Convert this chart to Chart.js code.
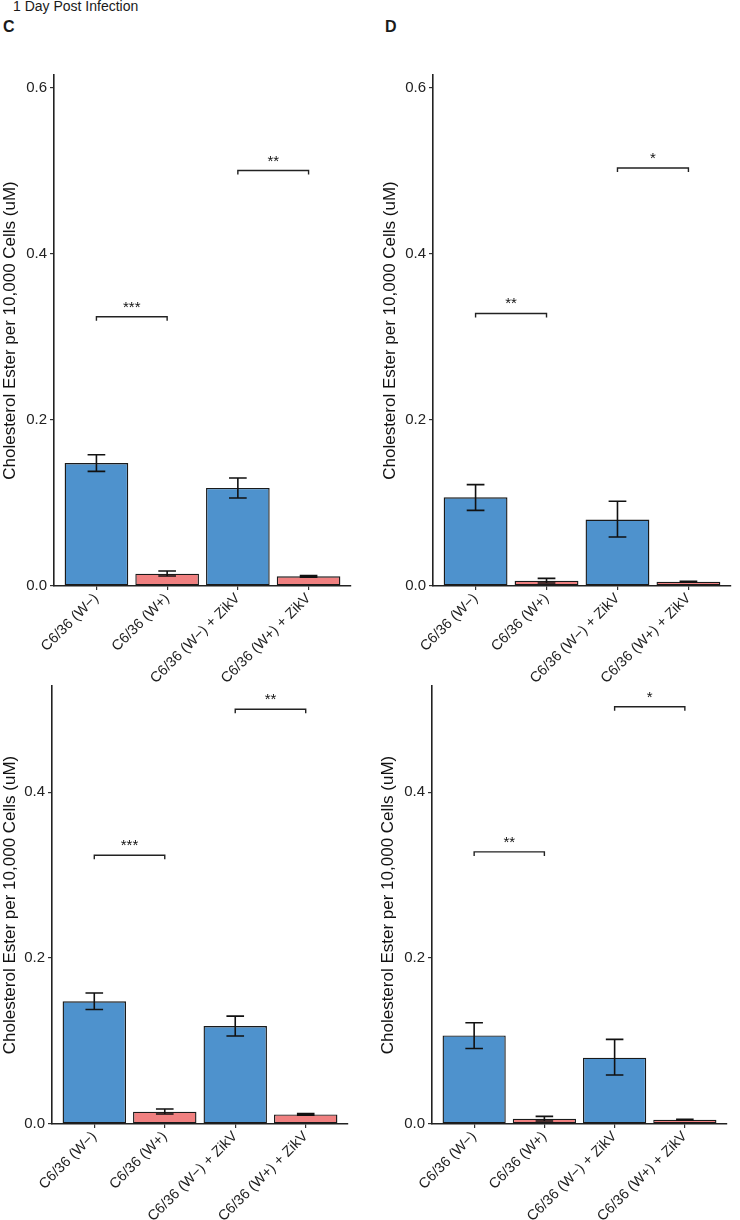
<!DOCTYPE html>
<html lang="en">
<head>
<meta charset="UTF-8">
<title>Cholesterol Ester - 1 Day Post Infection</title>
<script src="https://cdn.jsdelivr.net/npm/chart.js"></script>
<style>
  body { margin: 0; width: 740px; height: 1220px; position: relative; background: #fff; overflow: hidden;
         font-family: "Liberation Sans", Arial, sans-serif; }
  .note { position: absolute; color: #1a1a1a; white-space: nowrap; }
  canvas { position: absolute; }
</style>
</head>
<body>
<div class="note" style="left:13px; top:-1px; font-size:14px; line-height:14px;">1 Day Post Infection</div>
<div class="note" style="left:3px; top:19px; font-size:16px; line-height:16px; font-weight:bold;">C</div>
<div class="note" style="left:385px; top:19px; font-size:16px; line-height:16px; font-weight:bold;">D</div>

<canvas id="panelBL" width="370" height="550" style="left:0; top:670px;"></canvas>
<canvas id="panelBR" width="370" height="550" style="left:370px; top:670px;"></canvas>
<canvas id="panelTL" width="370" height="660" style="left:0; top:40px;"></canvas>
<canvas id="panelTR" width="370" height="660" style="left:370px; top:40px;"></canvas>

<script>
// ---- data ----
const categories = ['C6/36 (W\u2212)', 'C6/36 (W+)', 'C6/36 (W\u2212) + ZikV', 'C6/36 (W+) + ZikV'];
const yTicks = [0, 0.2, 0.4, 0.6];
const yTitle = 'Cholesterol Ester per 10,000 Cells (uM)';

// panel C
const meanC = [0.148, 0.0148, 0.118, 0.0116];
const lowC  = [0.138, 0.0120, 0.106, 0.0107];
const highC = [0.158, 0.0180, 0.130, 0.0125];
const sigPairsC  = [[0, 1], [2, 3]];
const sigHeightC = [0.324, 0.500];
const sigLabelC  = ['***', '**'];

// panel D
const meanD = [0.1068, 0.0064, 0.080, 0.0052];
const lowD  = [0.091, 0.0037, 0.059, 0.0047];
const highD = [0.122, 0.0092, 0.102, 0.0058];
const sigPairsD  = [[0, 1], [2, 3]];
const sigHeightD = [0.328, 0.503];
const sigLabelD  = ['**', '*'];

// upper limit of the y axis (top row / bottom row)
const yMaxTop = 0.615;
const yMaxBottom = 0.528;

const barColors = ['#4e92cd', '#f08080', '#4e92cd', '#f08080'];
const FONT = '"Liberation Sans", Arial, sans-serif';
const INK = '#1a1a1a';

// error bars + significance brackets
const overlay = {
    id: 'overlay',
    afterDatasetsDraw(chart, args, opts) {
        const { ctx, scales: { x, y } } = chart;
        const unit = x.getPixelForValue(1) - x.getPixelForValue(0);
        const half = unit * 0.125;
        ctx.save();
        ctx.strokeStyle = '#111';
        ctx.lineWidth = 1.6;
        opts.low.forEach((lo, i) => {
            const cx = x.getPixelForValue(i);
            const yl = y.getPixelForValue(lo);
            const yh = y.getPixelForValue(opts.high[i]);
            ctx.beginPath();
            ctx.moveTo(cx - half, yh); ctx.lineTo(cx + half, yh);
            ctx.moveTo(cx, yh); ctx.lineTo(cx, yl);
            ctx.moveTo(cx - half, yl); ctx.lineTo(cx + half, yl);
            ctx.stroke();
        });

        ctx.lineWidth = 1.4;
        ctx.strokeStyle = '#222';
        ctx.fillStyle = '#111';
        ctx.font = '15px ' + FONT;
        ctx.textAlign = 'center';
        ctx.textBaseline = 'alphabetic';
        opts.pairs.forEach((p, k) => {
            const x1 = x.getPixelForValue(p[0]);
            const x2 = x.getPixelForValue(p[1]);
            const yb = y.getPixelForValue(opts.heights[k]);
            ctx.beginPath();
            ctx.moveTo(x1, yb + 4); ctx.lineTo(x1, yb);
            ctx.lineTo(x2, yb); ctx.lineTo(x2, yb + 4);
            ctx.stroke();
            ctx.fillText(opts.labels[k], (x1 + x2) / 2, yb - 5);
        });
        ctx.restore();
    }
};

function makePanel(canvasId, means, low, high, pairs, heights, labels, yMax, layout) {
    new Chart(document.getElementById(canvasId), {
        type: 'bar',
        data: {
            datasets: [{
                data: means.map((v, i) => ({ x: i, y: v })),
                backgroundColor: barColors,
                borderColor: INK,
                borderWidth: 1.4,
                borderSkipped: false,
                categoryPercentage: 1,
                barPercentage: 0.9
            }]
        },
        options: {
            responsive: false,
            animation: false,
            layout: { padding: { left: 0, top: layout.padTop, right: layout.padRight, bottom: 0 } },
            plugins: {
                legend: { display: false },
                tooltip: { enabled: false },
                overlay: { low, high, pairs, heights, labels }
            },
            scales: {
                x: {
                    type: 'linear',
                    min: -0.6,
                    max: 3.6,
                    offset: false,
                    afterBuildTicks: s => { s.ticks = categories.map((c, i) => ({ value: i })); },
                    afterFit: s => { s.height = layout.xAxisH; },
                    ticks: {
                        autoSkip: false,
                        minRotation: 45,
                        maxRotation: 45,
                        padding: 0,
                        color: '#222',
                        font: { size: 14.5, family: FONT },
                        callback: v => categories[v]
                    },
                    grid: { offset: false, drawOnChartArea: false, drawTicks: true, tickLength: 4, color: '#333', lineWidth: 1.2 },
                    border: { display: true, color: '#222', width: 1.6 }
                },
                y: {
                    min: 0,
                    max: yMax,
                    afterBuildTicks: s => { s.ticks = yTicks.filter(t => t <= yMax).map(t => ({ value: t })); },
                    afterFit: s => { s.width = layout.axisLeft; },
                    ticks: {
                        padding: 3,
                        color: '#222',
                        font: { size: 15, family: FONT },
                        callback: v => v.toFixed(1)
                    },
                    grid: { drawOnChartArea: false, drawTicks: true, tickLength: 4, color: '#333', lineWidth: 1.2 },
                    border: { display: true, color: '#222', width: 1.6 },
                    title: {
                        display: true,
                        text: yTitle,
                        color: '#111',
                        font: { size: 17, family: FONT },
                        padding: { top: layout.titlePad, bottom: 0 }
                    }
                }
            }
        },
        plugins: [overlay]
    });
}

makePanel('panelTL', meanC, lowC, highC, sigPairsC, sigHeightC, sigLabelC, yMaxTop,
    { axisLeft: 54, padRight: 19, padTop: 35, xAxisH: 114, titlePad: 0 });
makePanel('panelTR', meanD, lowD, highD, sigPairsD, sigHeightD, sigLabelD, yMaxTop,
    { axisLeft: 63, padRight: 9, padTop: 35, xAxisH: 114, titlePad: 10 });
makePanel('panelBL', meanC, lowC, highC, sigPairsC, sigHeightC, sigLabelC, yMaxBottom,
    { axisLeft: 52, padRight: 22, padTop: 16, xAxisH: 96, titlePad: 0 });
makePanel('panelBR', meanD, lowD, highD, sigPairsD, sigHeightD, sigLabelD, yMaxBottom,
    { axisLeft: 62, padRight: 13, padTop: 16, xAxisH: 96, titlePad: 8 });
</script>
</body>
</html>
